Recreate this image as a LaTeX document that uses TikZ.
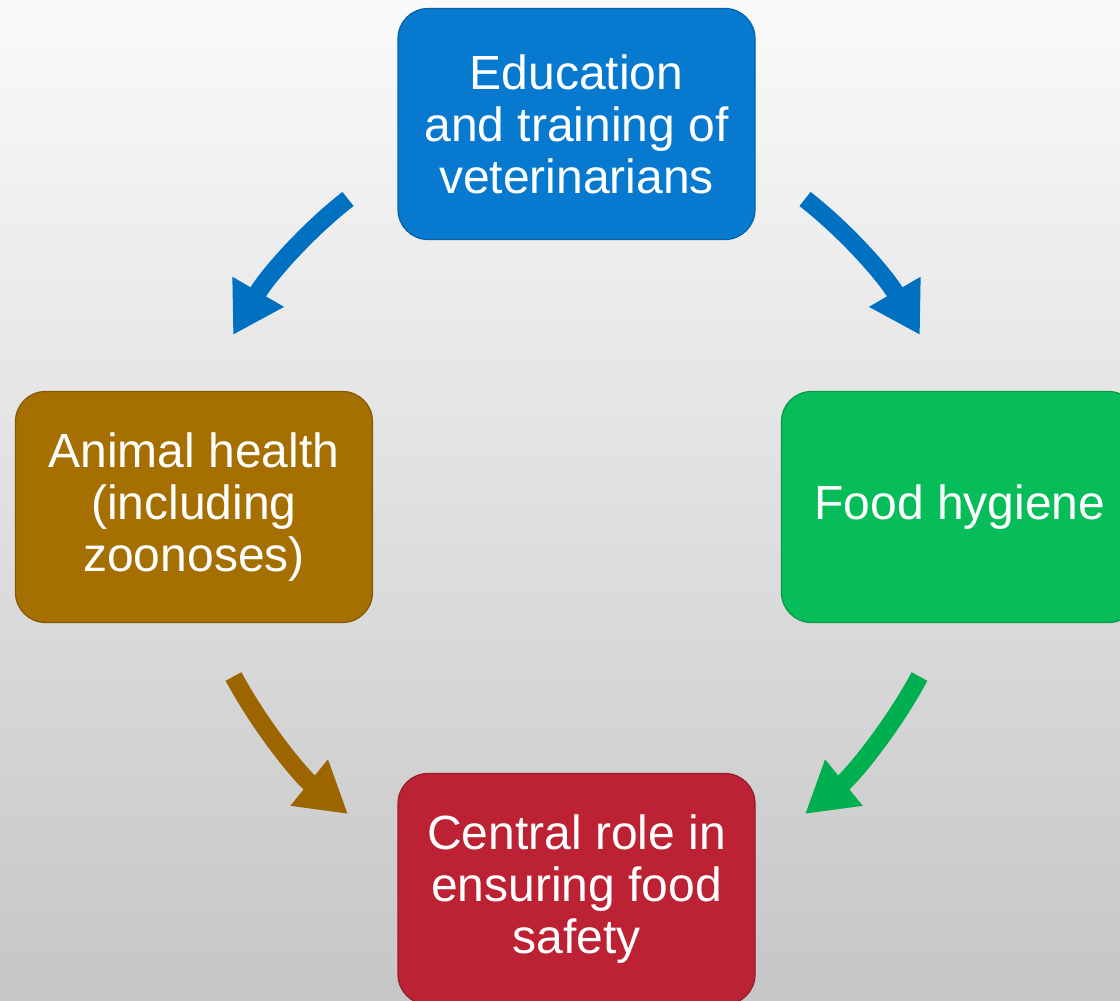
\documentclass[tikz,border=0pt]{standalone}
\usepackage{fontspec}
\setmainfont{Liberation Sans}
\usetikzlibrary{arrows.meta}
\definecolor{bgtop}{HTML}{FAFAFA}
\definecolor{bgbot}{HTML}{C6C6C6}
\definecolor{boxblue}{HTML}{077ACF}
\definecolor{boxbrown}{HTML}{A56F02}
\definecolor{boxgreen}{HTML}{07BD59}
\definecolor{boxred}{HTML}{BC2233}
\definecolor{arrblue}{HTML}{0070C0}
\definecolor{arrbrown}{HTML}{9C6500}
\definecolor{arrgreen}{HTML}{00B050}
\begin{document}
\begin{tikzpicture}[x=1pt,y=-1pt,
  topic/.style={rounded corners=30pt, minimum width=357pt, minimum height=231pt,
    text=white, align=center, inner sep=0pt, line width=1.2pt,
    font=\fontsize{48}{52}\selectfont},
  bigarrow/.style={line width=18pt, -{Triangle[length=50pt,width=56pt]}}]
\useasboundingbox (0,0) rectangle (1120,1001);
\shade[top color=bgtop, bottom color=bgbot] (0,0) rectangle (1120,1001);

\node[topic, fill=boxblue, draw=boxblue!80!black] (edu) at (576.5,124) {Education\\and training of\\veterinarians};
\node[topic, fill=boxbrown, draw=boxbrown!80!black] (ani) at (194,507) {Animal health\\(including\\zoonoses)};
\node[topic, fill=boxgreen, draw=boxgreen!80!black] (food) at (960,507) {Food hygiene};
\node[topic, fill=boxred, draw=boxred!80!black] (safe) at (576.5,889) {Central role in\\ensuring food\\safety};

\coordinate (a1s) at (348,199);   \coordinate (a1e) at (233,335);
\coordinate (a2s) at (805,199);   \coordinate (a2e) at (920,335);
\coordinate (a3s) at (233.5,676.5); \coordinate (a3e) at (348,814);
\coordinate (a4s) at (919.5,676.5); \coordinate (a4e) at (805,814);

\draw[bigarrow, arrblue] (a1s) .. controls (308,230) and (268,275) .. (a1e);
\draw[bigarrow, arrblue] (a2s) .. controls (845,230) and (885,275) .. (a2e);
\draw[bigarrow, arrbrown] (a3s) .. controls (261.5,728.5) and (301,776) .. (a3e);
\draw[bigarrow, arrgreen] (a4s) .. controls (891.5,728.5) and (852,776) .. (a4e);
\end{tikzpicture}
\end{document}
